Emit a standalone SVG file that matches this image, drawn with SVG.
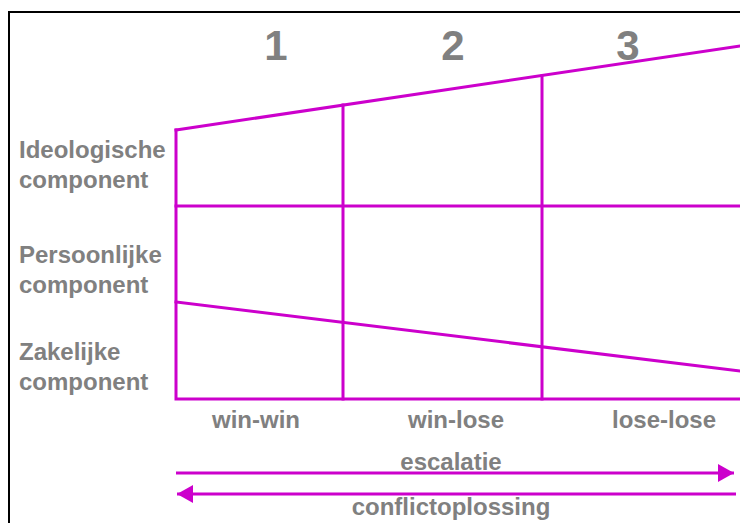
<svg xmlns="http://www.w3.org/2000/svg" width="740" height="523" viewBox="0 0 740 523">
  <style>
    .frame { fill: none; stroke: #000; stroke-width: 2; }
    .grid { fill: none; stroke: #CC00CC; stroke-width: 3; stroke-linecap: square; }
    .arrow { fill: none; stroke: #CC00CC; stroke-width: 3; }
    .lbl { font-family: "Liberation Sans", Arial, sans-serif; font-weight: bold; fill: #808080; font-size: 24px; }
    .num { font-family: "Liberation Sans", Arial, sans-serif; font-weight: bold; fill: #808080; font-size: 42px; text-anchor: middle; }
    .mid { text-anchor: middle; }
  </style>
  <defs>
    <marker id="head" viewBox="0 0 16 18" refX="16" refY="9" markerWidth="16" markerHeight="18" markerUnits="userSpaceOnUse" orient="auto-start-reverse">
      <path d="M0,0 L16,9 L0,18 Z" fill="#CC00CC"/>
    </marker>
  </defs>
  <rect width="740" height="523" fill="#fff"/>
  <!-- outer frame -->
  <path class="frame" d="M9,523 V12 H740"/>

  <!-- phase numbers -->
  <g id="phase-1"><text class="num" x="276" y="60">1</text></g>
  <g id="phase-2"><text class="num" x="453" y="60">2</text></g>
  <g id="phase-3"><text class="num" x="628" y="60">3</text></g>

  <!-- component grid -->
  <g id="grid">
    <path class="grid" d="M176,130 L740,46"/>
    <path class="grid" d="M176,130 V399 H740"/>
    <path class="grid" d="M343,105 V399"/>
    <path class="grid" d="M542,76 V399"/>
    <path class="grid" d="M176,206 H740"/>
    <path class="grid" d="M176,302 L740,371"/>
  </g>

  <!-- row labels -->
  <g id="row-ideologisch">
    <text class="lbl" x="19" y="158">Ideologische</text>
    <text class="lbl" x="19" y="188">component</text>
  </g>
  <g id="row-persoonlijk">
    <text class="lbl" x="19" y="263">Persoonlijke</text>
    <text class="lbl" x="19" y="293">component</text>
  </g>
  <g id="row-zakelijk">
    <text class="lbl" x="19" y="360">Zakelijke</text>
    <text class="lbl" x="19" y="390">component</text>
  </g>

  <!-- outcome labels -->
  <g id="col-win-win"><text class="lbl mid" x="256" y="428">win-win</text></g>
  <g id="col-win-lose"><text class="lbl mid" x="456" y="428">win-lose</text></g>
  <g id="col-lose-lose"><text class="lbl mid" x="664" y="428">lose-lose</text></g>

  <!-- direction arrows -->
  <g id="connectors">
    <line class="arrow" x1="176" y1="473" x2="734" y2="473" marker-end="url(#head)"/>
    <line class="arrow" x1="177" y1="494" x2="736" y2="494" marker-start="url(#head)"/>
  </g>
  <g id="lbl-escalatie"><text class="lbl mid" x="451" y="470">escalatie</text></g>
  <g id="lbl-conflictoplossing"><text class="lbl mid" x="451" y="515">conflictoplossing</text></g>
</svg>
